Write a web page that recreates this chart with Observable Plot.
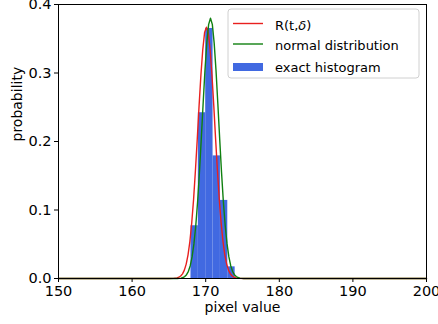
<!DOCTYPE html>
<html>
<head>
<meta charset="utf-8">
<script src="https://cdn.jsdelivr.net/npm/d3@7"></script>
<script src="https://cdn.jsdelivr.net/npm/@observablehq/plot@0.6"></script>
<style>
  html, body { margin: 0; padding: 0; background: #fff; }
  svg { font-family: "DejaVu Sans", sans-serif; display: block; }
</style>
</head>
<body>
<div id="chart"></div>
<script>
// ---- data ----
const binStart = [168, 169, 170, 171, 172, 173];
const binProb  = [0.077, 0.242, 0.365, 0.179, 0.114, 0.017];

const redX = [150, 165, 165.6, 166.1, 166.35, 166.6, 166.85, 167.1, 167.35, 167.6, 167.85, 168.1, 168.35, 168.6, 168.85, 169.1, 169.35, 169.6, 169.85, 170.1, 170.35, 170.6, 170.85, 171.1, 171.35, 171.6, 171.85, 172.1, 172.35, 172.6, 172.85, 173.1, 173.35, 173.6, 173.85, 174.1, 174.6, 175.2, 200];
const redY = [0, 0, 0.0002, 0.0009, 0.0018, 0.0036, 0.0068, 0.0122, 0.021, 0.0345, 0.054, 0.081, 0.115, 0.157, 0.203, 0.252, 0.297, 0.334, 0.359, 0.367, 0.359, 0.334, 0.297, 0.252, 0.203, 0.157, 0.115, 0.081, 0.054, 0.0345, 0.021, 0.0122, 0.0068, 0.0036, 0.0018, 0.0009, 0.0002, 0, 0];

const greenX = [150, 165.5, 166.15, 166.65, 166.9, 167.15, 167.4, 167.65, 167.9, 168.15, 168.4, 168.65, 168.9, 169.15, 169.4, 169.65, 169.9, 170.15, 170.4, 170.65, 170.9, 171.15, 171.4, 171.65, 171.9, 172.15, 172.4, 172.65, 172.9, 173.15, 173.4, 173.65, 173.9, 174.15, 174.4, 174.65, 175.15, 175.8, 200];
const greenY = [0, 0, 0.0001, 0.0006, 0.0014, 0.0029, 0.0056, 0.0105, 0.0187, 0.0315, 0.0505, 0.077, 0.112, 0.155, 0.204, 0.255, 0.304, 0.344, 0.371, 0.380, 0.371, 0.344, 0.304, 0.255, 0.204, 0.155, 0.112, 0.077, 0.0505, 0.0315, 0.0187, 0.0105, 0.0056, 0.0029, 0.0014, 0.0006, 0.0001, 0, 0];

const xTicks = [150, 160, 170, 180, 190, 200];
const yTicks = [0, 0.1, 0.2, 0.3, 0.4];
const xLabel = "pixel value";
const yLabel = "probability";
const legendLabels = ["R(t,δ)", "normal distribution", "exact histogram"];
const colors = {red: "#e8201e", green: "#108010", blue: "#4169e1"};

// ---- tables built from the arrays ----
const bins = binStart.map((s, i) => ({x1: s, x2: s + 1, p: binProb[i]}));
const red = redX.map((x, i) => ({x, y: redY[i]}));
const green = greenX.map((x, i) => ({x, y: greenY[i]}));

const svg = Plot.plot({
  width: 438,
  height: 324,
  marginLeft: 58,
  marginRight: 12,
  marginTop: 4,
  marginBottom: 46,
  style: {fontFamily: "DejaVu Sans, sans-serif", background: "#fff", overflow: "visible"},
  x: {domain: [150, 200], ticks: xTicks, tickFormat: d => String(d)},
  y: {domain: [0, 0.4], ticks: yTicks, tickFormat: d => d.toFixed(1)},
  marks: [
    Plot.rectY(bins, {x1: "x1", x2: "x2", y: "p", fill: colors.blue, inset: 0}),
    Plot.line(red, {x: "x", y: "y", stroke: colors.red, strokeWidth: 1.4}),
    Plot.line(green, {x: "x", y: "y", stroke: colors.green, strokeWidth: 1.4}),
    Plot.frame({stroke: "#000", strokeWidth: 1}),
    Plot.axisX({ticks: xTicks, tickFormat: d => String(d), tickSize: 4, tickPadding: 3, fontSize: 14.5, label: null, stroke: "#000", color: "#000"}),
    Plot.axisY({ticks: yTicks, tickFormat: d => d.toFixed(1), tickSize: 4, tickPadding: 3, fontSize: 14.5, label: null, stroke: "#000", color: "#000"}),
    Plot.text([xLabel], {text: d => d, frameAnchor: "bottom", dy: 33, fontSize: 14, fill: "#000"}),
    Plot.text([yLabel], {text: d => d, frameAnchor: "left", dx: -41, rotate: -90, fontSize: 14, fill: "#000"})
  ]
});

// ---- legend (upper right, matplotlib style) ----
const g = d3.select(svg).append("g").attr("font-size", 13).attr("font-family", "DejaVu Sans, sans-serif").attr("text-anchor", "start");
g.append("rect").attr("x", 228).attr("y", 9).attr("width", 191).attr("height", 69)
  .attr("rx", 3).attr("fill", "#fff").attr("fill-opacity", 0.85).attr("stroke", "#d0d0d0");
const rows = [23.5, 44, 67];
g.append("line").attr("x1", 233).attr("x2", 263).attr("y1", rows[0]).attr("y2", rows[0]).attr("stroke", colors.red).attr("stroke-width", 1.4);
g.append("line").attr("x1", 233).attr("x2", 263).attr("y1", rows[1]).attr("y2", rows[1]).attr("stroke", colors.green).attr("stroke-width", 1.4);
g.append("rect").attr("x", 233).attr("y", rows[2] - 4).attr("width", 30).attr("height", 8).attr("fill", colors.blue);
const t0 = g.append("text").attr("x", 275).attr("y", rows[0] + 1).attr("dominant-baseline", "central").attr("text-anchor", "start");
t0.append("tspan").text("R(t,");
t0.append("tspan").attr("font-style", "italic").text("δ");
t0.append("tspan").text(")");
g.append("text").attr("x", 275).attr("y", rows[1] + 1).attr("dominant-baseline", "central").attr("text-anchor", "start").text(legendLabels[1]);
g.append("text").attr("x", 275).attr("y", rows[2]).attr("dominant-baseline", "central").attr("text-anchor", "start").text(legendLabels[2]);

document.getElementById("chart").appendChild(svg);
</script>
</body>
</html>
